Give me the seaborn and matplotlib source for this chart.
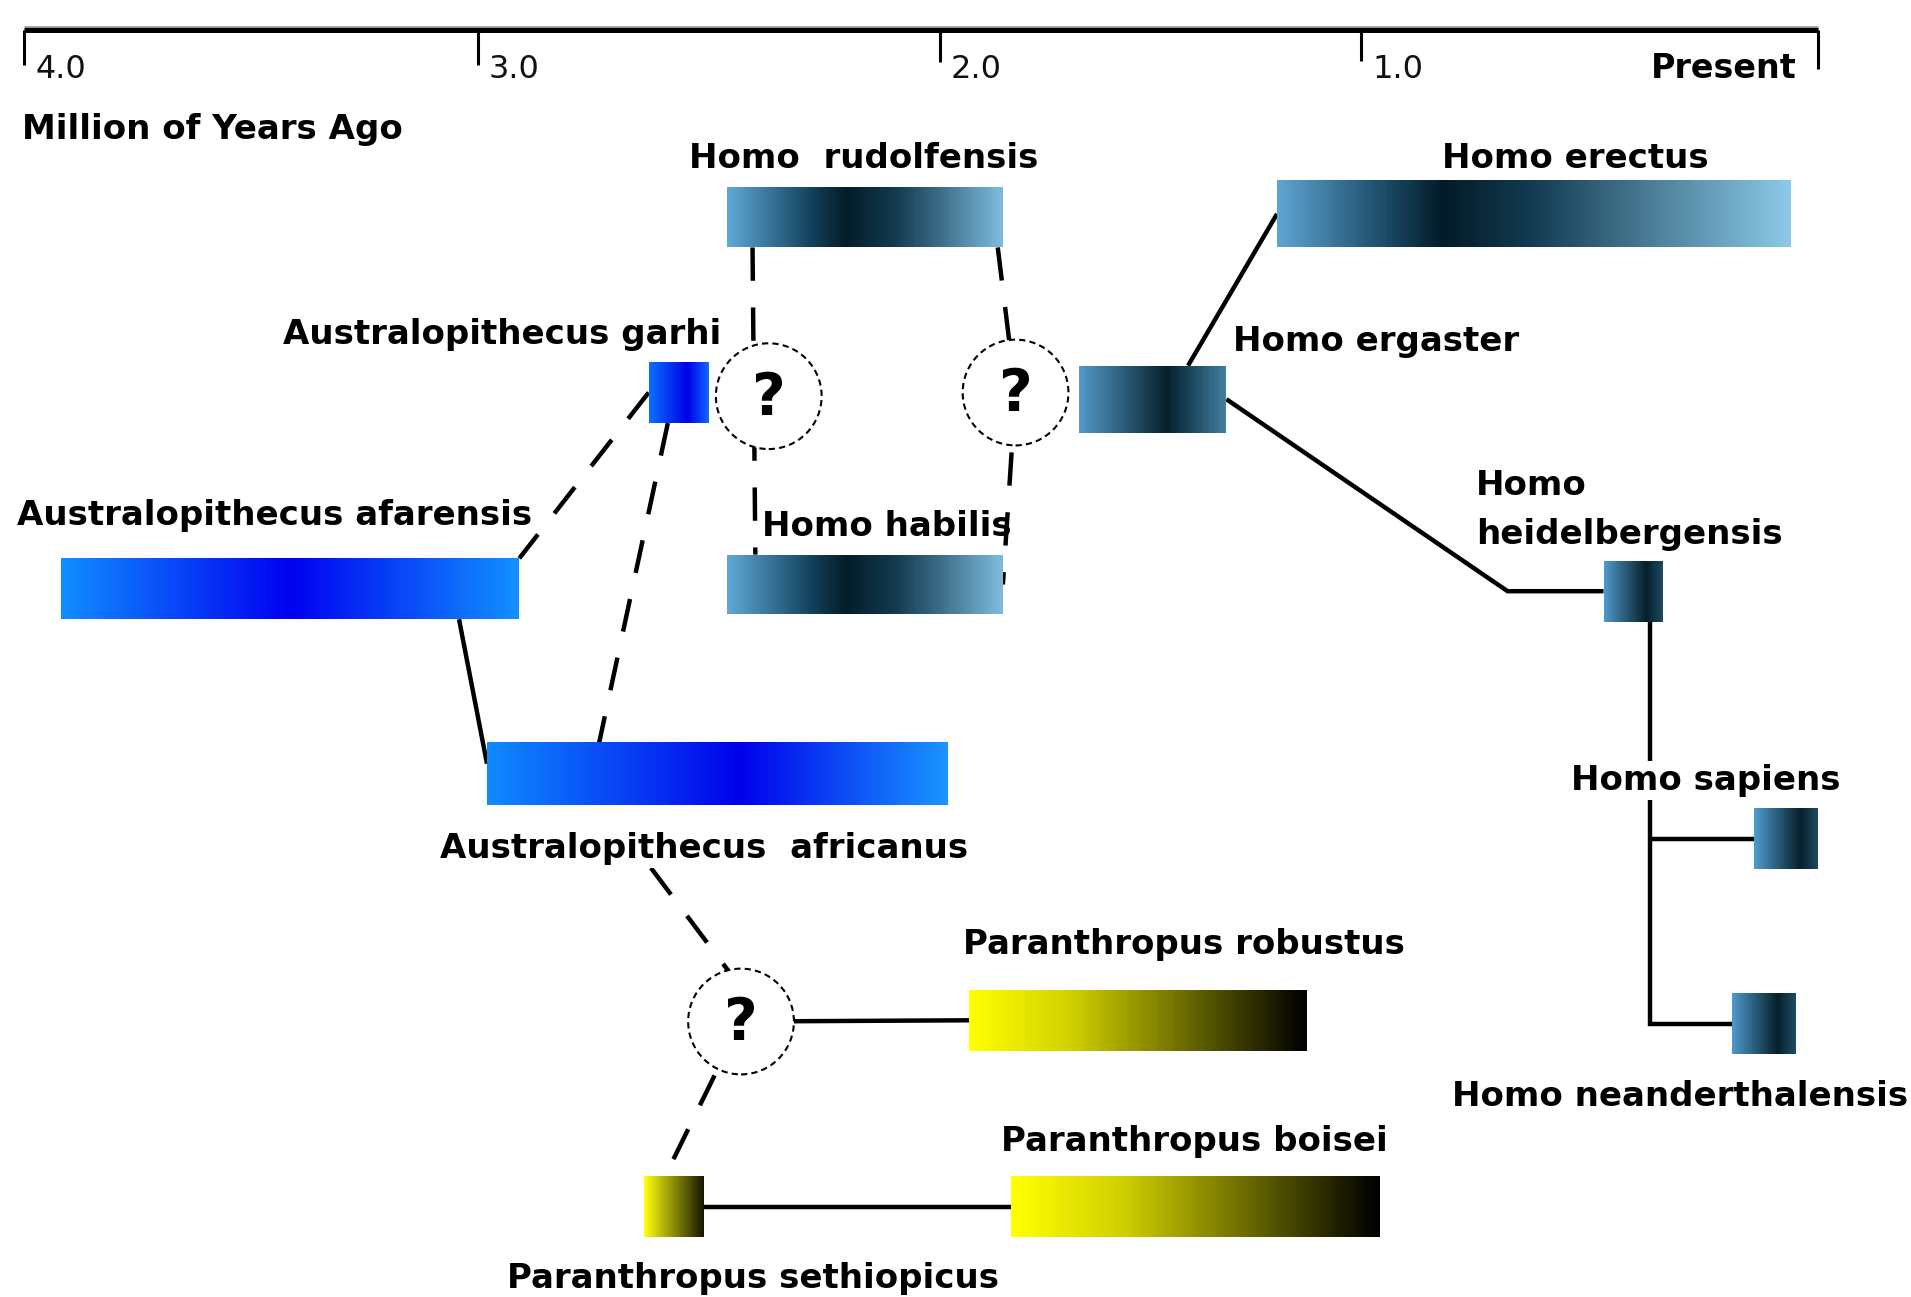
import numpy as np
import matplotlib
matplotlib.use("Agg")
import matplotlib.pyplot as plt
import seaborn as sns
from matplotlib.colors import LinearSegmentedColormap
from matplotlib.transforms import blended_transform_factory

# ---------------- data ----------------
species = ["Homo rudolfensis", "Homo erectus", "Australopithecus garhi", "Homo ergaster",
           "Australopithecus afarensis", "Homo habilis", "Homo heidelbergensis",
           "Australopithecus africanus", "Homo sapiens", "Paranthropus robustus",
           "Homo neanderthalensis", "Paranthropus aethiopicus", "Paranthropus boisei"]
start_mya = [2.46, 1.20, 2.63, 1.67, 3.92, 2.46, 0.47, 2.98, 0.14, 1.93, 0.19, 2.64, 1.83]
end_mya = [1.85, 0.06, 2.50, 1.32, 2.91, 1.85, 0.34, 1.98, 0.00, 1.13, 0.05, 2.51, 0.96]
label_text = ["Homo  rudolfensis", "Homo erectus", "Australopithecus garhi", "Homo ergaster",
              "Australopithecus afarensis", "Homo habilis", "Homo\nheidelbergensis",
              "Australopithecus  africanus", "Homo sapiens", "Paranthropus robustus",
              "Homo neanderthalensis", "Paranthropus sethiopicus", "Paranthropus boisei"]
tick_values = [4.0, 3.0, 2.0, 1.0, 0.0]
tick_labels = ["4.0", "3.0", "2.0", "1.0", "Present"]
axis_title = "Million of Years Ago"
uncertain_mya = [2.37, 1.82, 2.43]      # the three "?" nodes
elbow_mya = 0.68                        # ergaster -> heidelbergensis elbow

# ---------------- layout (reference pixel space 1568 x 1064) ----------------
W, H = 1568, 1064
bar_rows = {  # top, height
    "Homo rudolfensis": (153, 50), "Homo erectus": (148, 55), "Australopithecus garhi": (297, 50),
    "Homo ergaster": (300, 55), "Australopithecus afarensis": (458, 50), "Homo habilis": (455, 49),
    "Homo heidelbergensis": (460, 50), "Australopithecus africanus": (609, 51),
    "Homo sapiens": (663, 50), "Paranthropus robustus": (812, 50),
    "Homo neanderthalensis": (815, 50), "Paranthropus aethiopicus": (965, 50),
    "Paranthropus boisei": (965, 50)}
label_pos = {  # left x, baseline y
    "Homo rudolfensis": (565, 138), "Homo erectus": (1183, 138), "Australopithecus garhi": (232, 282),
    "Homo ergaster": (1012, 288), "Australopithecus afarensis": (14, 431), "Homo habilis": (625, 440),
    "Homo heidelbergensis": (1211, 406), "Australopithecus africanus": (361, 704),
    "Homo sapiens": (1289, 648), "Paranthropus robustus": (790, 783),
    "Homo neanderthalensis": (1191, 907), "Paranthropus aethiopicus": (416, 1057),
    "Paranthropus boisei": (821, 944)}
uncertain_y = [325, 322, 838]
axis_y = 25
tick_end_y = [53, 53, 51, 50, 57]
africanus_label_gap = 52   # dashed line to "?" starts below the africanus label

# gradient styles
blue_a = [(0, "#108cff"), (0.5, "#0000f0"), (1, "#128eff")]
blue_b = [(0, "#0f8aff"), (0.55, "#0000ea"), (1, "#1a94ff")]
blue_g = [(0, "#0a70ff"), (0.65, "#0000e4"), (1, "#1064ff")]
homo_r = [(0, "#5ea6d4"), (0.3, "#12405a"), (0.42, "#041c28"), (0.6, "#123a50"), (1, "#7cbadb")]
homo_e = [(0, "#5ea3d0"), (0.22, "#1a4a66"), (0.33, "#021a26"), (0.5, "#123a50"), (1, "#8ac8e6")]
homo_g = [(0, "#5398c6"), (0.6, "#05202c"), (1, "#3f7f9f")]
homo_s = [(0, "#4f9acb"), (0.72, "#061f2a"), (1, "#1d4a62")]
paran = [(0, "#ffff00"), (0.3, "#d0d000"), (1, "#000000")]
paran_s = [(0, "#ffff10"), (1, "#141400")]
bar_style = {
    "Homo rudolfensis": homo_r, "Homo erectus": homo_e, "Australopithecus garhi": blue_g,
    "Homo ergaster": homo_g, "Australopithecus afarensis": blue_a, "Homo habilis": homo_r,
    "Homo heidelbergensis": homo_s, "Australopithecus africanus": blue_b,
    "Homo sapiens": homo_s, "Paranthropus robustus": paran,
    "Homo neanderthalensis": homo_s, "Paranthropus aethiopicus": paran_s,
    "Paranthropus boisei": paran}

# ---------------- figure ----------------
sns.set_theme(style="white")
plt.rcParams["font.family"] = ["DejaVu Sans"]
plt.rcParams["text.color"] = "black"
fig = plt.figure(figsize=(19.11, 12.97), dpi=100)
fig.patch.set_facecolor("white")
ax = fig.add_axes([0, 0, 1, 1])
ax.axis("off")

# piecewise-linear time scale (distance from Present in reference px)
SC_X = [-0.5, 0.0, 1.0, 2.0, 3.0, 4.0, 4.5]
SC_D = [-0.5 * 375, 0, 375, 721, 1100, 1472, 1472 + 0.5 * 372]
def fwd(x):
    return np.interp(x, SC_X, SC_D)
def inv(d):
    return np.interp(d, SC_D, SC_X)
ax.set_xscale("function", functions=(fwd, inv))
ax.set_xlim(4.0 + 20 / 372, -76 / 375)
ax.set_ylim(H, 0)
tx = blended_transform_factory(ax.transAxes, ax.transData)

def bar_x(name, frac):
    i = species.index(name)
    return start_mya[i] + frac * (end_mya[i] - start_mya[i])

def bar_y(name, where):
    top, h = bar_rows[name]
    return {"top": top, "mid": top + h / 2, "bot": top + h}[where]

# bars with gradients
for i, name in enumerate(species):
    top, h = bar_rows[name]
    cmap = LinearSegmentedColormap.from_list(name, bar_style[name])
    xs = np.linspace(start_mya[i], end_mya[i], 121)
    ys = [top, top + h]
    C = np.linspace(0, 1, 120).reshape(1, -1)
    ax.pcolormesh(xs, ys, C, cmap=cmap, shading="flat", zorder=3,
                  edgecolors="none", antialiased=False)

# connectors
U = list(zip(uncertain_mya, uncertain_y))
hx = bar_x("Homo heidelbergensis", 0.78)
solid = [
    [(bar_x("Homo ergaster", 0.74), bar_y("Homo ergaster", "top")),
     (bar_x("Homo erectus", 0), bar_y("Homo erectus", "mid"))],
    [(bar_x("Homo ergaster", 1), bar_y("Homo ergaster", "mid")),
     (elbow_mya, bar_y("Homo heidelbergensis", "mid")),
     (bar_x("Homo heidelbergensis", 0), bar_y("Homo heidelbergensis", "mid"))],
    [(hx, bar_y("Homo heidelbergensis", "bot")), (hx, bar_y("Homo neanderthalensis", "mid")),
     (bar_x("Homo neanderthalensis", 0), bar_y("Homo neanderthalensis", "mid"))],
    [(hx, bar_y("Homo sapiens", "mid")), (bar_x("Homo sapiens", 0), bar_y("Homo sapiens", "mid"))],
    [(bar_x("Australopithecus afarensis", 0.87), bar_y("Australopithecus afarensis", "bot")),
     (bar_x("Australopithecus africanus", 0), bar_y("Australopithecus africanus", "mid") - 8)],
    [U[2], (bar_x("Paranthropus robustus", 0), bar_y("Paranthropus robustus", "mid"))],
    [(bar_x("Paranthropus aethiopicus", 1), bar_y("Paranthropus aethiopicus", "mid")),
     (bar_x("Paranthropus boisei", 0), bar_y("Paranthropus boisei", "mid"))],
]
dashed = [
    [(bar_x("Homo rudolfensis", 0.09), bar_y("Homo rudolfensis", "bot")),
     (bar_x("Homo habilis", 0.10), bar_y("Homo habilis", "top"))],
    [(bar_x("Homo rudolfensis", 0.98), bar_y("Homo rudolfensis", "bot")), U[1]],
    [U[1], (bar_x("Homo habilis", 1.0), bar_y("Homo habilis", "mid"))],
    [(bar_x("Australopithecus garhi", 0), bar_y("Australopithecus garhi", "mid")),
     (bar_x("Australopithecus afarensis", 1), bar_y("Australopithecus afarensis", "top"))],
    [(bar_x("Australopithecus garhi", 0.32), bar_y("Australopithecus garhi", "bot")),
     (bar_x("Australopithecus africanus", 0.243), bar_y("Australopithecus africanus", "top"))],
    [(bar_x("Australopithecus africanus", 0.355),
      bar_y("Australopithecus africanus", "bot") + africanus_label_gap),
     (U[2][0] - 0.055, U[2][1])],
    [U[2], (bar_x("Paranthropus aethiopicus", 0.35), bar_y("Paranthropus aethiopicus", "top"))],
]
for seg in solid:
    xs, ys = zip(*seg)
    ax.plot(xs, ys, color="black", lw=3.2, zorder=2, solid_capstyle="butt",
            solid_joinstyle="miter")
for seg in dashed:
    xs, ys = zip(*seg)
    ax.plot(xs, ys, color="black", lw=3.2, zorder=2, linestyle=(0, (7.5, 6)),
            dash_capstyle="butt")

# uncertain nodes
sns.scatterplot(x=uncertain_mya, y=uncertain_y, s=5800, color="white", edgecolor="black",
                linewidth=1.5, linestyle=(0, (3, 2)), zorder=4, ax=ax, legend=False)
for xm, ym in U:
    ax.text(xm, ym + 2, "?", fontsize=42, fontweight="bold", ha="center", va="center",
            zorder=5, color="black")

# top time axis
ax.plot([tick_values[0], tick_values[-1]], [axis_y - 3, axis_y - 3], color="#9a9a9a",
        lw=2.0, zorder=1, solid_capstyle="butt")
ax.plot([tick_values[0], tick_values[-1]], [axis_y, axis_y], color="black", lw=3.6,
        zorder=2, solid_capstyle="butt")
for v, ye in zip(tick_values, tick_end_y):
    ax.plot([v, v], [axis_y, ye], color="black", lw=2.2, zorder=2, solid_capstyle="butt")
for v, lab in zip(tick_values, tick_labels):
    if lab == "Present":
        ax.annotate(lab, (v, 64), xytext=(-16, 0), textcoords="offset points",
                    ha="right", va="baseline", fontsize=24, fontweight="bold", color="black")
    else:
        ax.annotate(lab, (v, 64), xytext=(8, 0), textcoords="offset points",
                    ha="left", va="baseline", fontsize=23, fontweight="normal", color="#111111")
ax.text(18 / W, 114, axis_title, transform=tx, ha="left", va="baseline",
        fontsize=24.5, fontweight="bold", color="black")

# species labels
for name, lab in zip(species, label_text):
    x0, yb = label_pos[name]
    lines = lab.split("\n")
    for k, line in enumerate(lines):
        bbox = None
        if name in ("Homo sapiens", "Australopithecus africanus"):
            bbox = dict(facecolor="white", edgecolor="none", pad=2)
        ax.text(x0 / W, yb + 40 * k, line, transform=tx, ha="left", va="baseline",
                fontsize=24.5, fontweight="bold", zorder=5, bbox=bbox, color="black")

fig.savefig("out.png", dpi=100, facecolor="white")
